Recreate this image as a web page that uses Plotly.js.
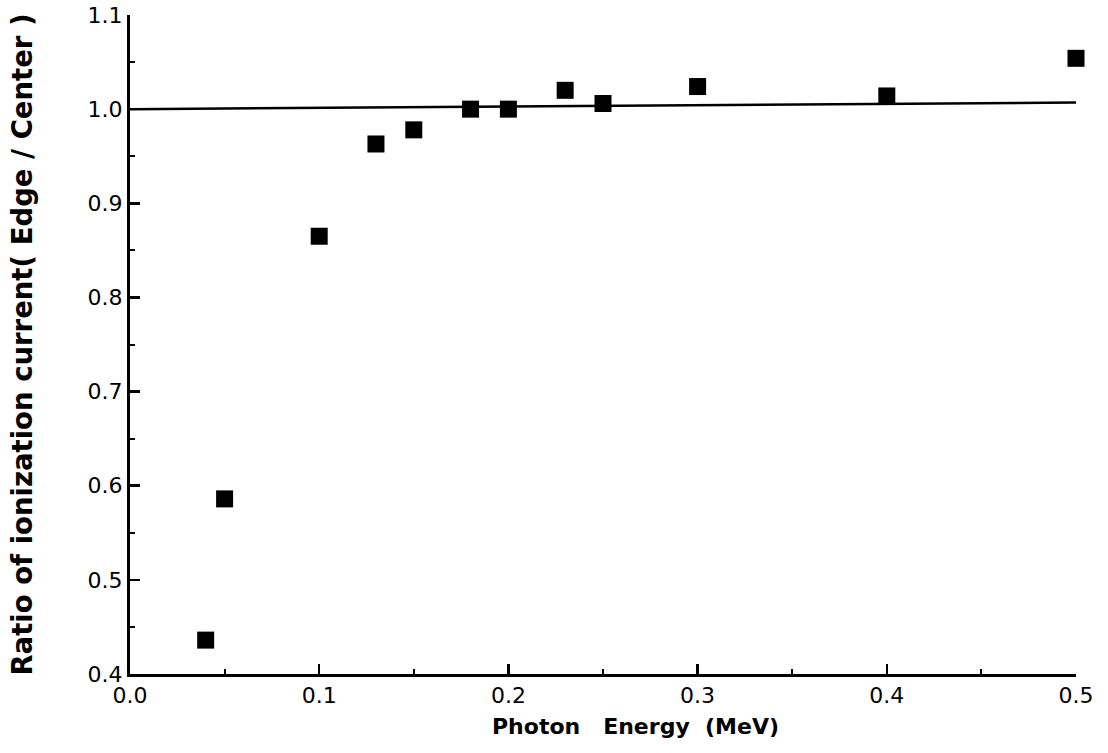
<!DOCTYPE html>
<html>
<head>
<meta charset="utf-8">
<script src="https://cdn.plot.ly/plotly-3.0.1.min.js"></script>
<style>html,body{margin:0;padding:0;background:#fff;}#chart{width:1108px;height:753px;}</style>
</head>
<body>
<div id="chart"></div>
<script>
const energy = [0.04, 0.05, 0.10, 0.13, 0.15, 0.18, 0.20, 0.23, 0.25, 0.30, 0.40, 0.50];
const ratio  = [0.436, 0.586, 0.865, 0.963, 0.978, 1.000, 1.000, 1.020, 1.006, 1.024, 1.014, 1.054];
const fitX = [0.0, 0.5];
const fitY = [1.000, 1.007];
const xTitle = 'Photon\u00a0\u00a0\u00a0Energy\u00a0\u00a0(MeV)';
const yTitle = 'Ratio of ionization current( Edge / Center )';

const tickFont = {family: 'DejaVu Sans, Verdana, sans-serif', size: 22, color: '#000'};
const xTitleFont = {family: 'DejaVu Sans, Verdana, sans-serif', size: 22, color: '#000', weight: 'bold'};
const yTitleFont = {family: 'DejaVu Sans, Verdana, sans-serif', size: 27.5, color: '#000', weight: 'bold'};

const traces = [
  {x: fitX, y: fitY, mode: 'lines', type: 'scatter', line: {color: '#000', width: 2.5}, hoverinfo: 'skip', showlegend: false},
  {x: energy, y: ratio, mode: 'markers', type: 'scatter', cliponaxis: false,
   marker: {symbol: 'square', size: 17, color: '#000'}, showlegend: false}
];

const layout = {
  width: 1108, height: 753,
  margin: {l: 130, r: 32, t: 15, b: 79},
  paper_bgcolor: '#fff', plot_bgcolor: '#fff',
  showlegend: false,
  xaxis: {
    range: [0, 0.5], dtick: 0.1, tick0: 0, tickformat: '.1f',
    showgrid: false, zeroline: false, showline: true, linecolor: '#000', linewidth: 3,
    ticks: 'inside', ticklen: 10, tickwidth: 2.5, tickcolor: '#000',
    minor: {dtick: 0.05, ticks: 'inside', ticklen: 5, tickwidth: 2, tickcolor: '#000', showgrid: false},
    tickfont: tickFont
  },
  yaxis: {
    range: [0.4, 1.1], dtick: 0.1, tick0: 0.4, tickformat: '.1f',
    showgrid: false, zeroline: false, showline: true, linecolor: '#000', linewidth: 3,
    ticks: 'inside', ticklen: 10, tickwidth: 2.5, tickcolor: '#000',
    minor: {dtick: 0.05, ticks: 'inside', ticklen: 5, tickwidth: 2, tickcolor: '#000', showgrid: false},
    tickfont: tickFont,
    title: {text: yTitle, font: yTitleFont, standoff: 47}
  },
  annotations: [
    {text: xTitle, xref: 'paper', yref: 'paper', x: 0.534, y: -0.079, xanchor: 'center', yanchor: 'middle',
     showarrow: false, font: xTitleFont}
  ]
};

Plotly.newPlot('chart', traces, layout, {displayModeBar: false, staticPlot: true});
</script>
</body>
</html>
